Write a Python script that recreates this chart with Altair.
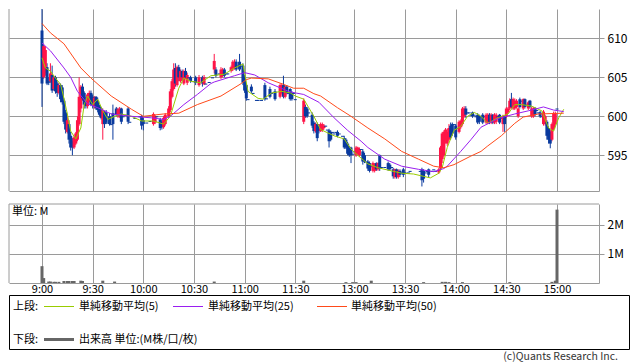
import altair as alt
import numpy as np
import pandas as pd

FONT = "Noto Sans CJK JP"
GRID = "#9a9a9a"
UP = "#ff1447"
DOWN = "#0a3a9e"
VOL_COLOR = "#666666"

# ---------------- 1-minute candles (time, open, high, low, close) ----------------
candle_time = [
    "9:00", "9:01", "9:02", "9:03", "9:04", "9:05", "9:06", "9:07", "9:08", "9:09",
    "9:10", "9:11", "9:12", "9:13", "9:14", "9:15", "9:16", "9:17", "9:18", "9:19",
    "9:20", "9:21", "9:22", "9:23", "9:24", "9:25", "9:26", "9:27", "9:28", "9:29",
    "9:30", "9:31", "9:32", "9:33", "9:34", "9:35", "9:36", "9:37", "9:38", "9:39",
    "9:40", "9:41", "9:42", "9:44", "9:45", "9:46", "9:47", "9:48", "9:50", "9:51",
    "9:52", "9:55", "9:58", "9:59", "10:00", "10:02", "10:04", "10:06", "10:07", "10:08",
    "10:10", "10:11", "10:12", "10:13", "10:15", "10:16", "10:17", "10:18", "10:19", "10:20",
    "10:21", "10:22", "10:23", "10:24", "10:25", "10:26", "10:27", "10:28", "10:30", "10:31",
    "10:33", "10:35", "10:36", "10:37", "10:39", "10:41", "10:42", "10:43", "10:45", "10:46",
    "10:47", "10:48", "10:49", "10:50", "10:52", "10:53", "10:54", "10:55", "10:56", "10:57",
    "10:58", "10:59", "11:00", "11:01", "11:02", "11:04", "11:05", "11:07", "11:08", "11:10",
    "11:12", "11:13", "11:15", "11:16", "11:18", "11:21", "11:22", "11:23", "11:24", "11:25",
    "11:26", "11:27", "11:28", "11:29", "11:30",
    "12:30", "12:31", "12:32", "12:33", "12:35", "12:36", "12:37", "12:38", "12:39", "12:40",
    "12:41", "12:42", "12:43", "12:44", "12:45", "12:46", "12:47", "12:48", "12:49", "12:50",
    "12:51", "12:53", "12:54", "12:55", "12:56", "12:57", "12:58", "12:59", "13:00", "13:01",
    "13:02", "13:03", "13:04", "13:05", "13:06", "13:07", "13:08", "13:09", "13:10", "13:11",
    "13:12", "13:13", "13:14", "13:15", "13:16", "13:18", "13:20", "13:21", "13:22", "13:23",
    "13:24", "13:25", "13:26", "13:27", "13:28", "13:29", "13:30", "13:32", "13:33", "13:39",
    "13:40", "13:41", "13:42", "13:43", "13:44", "13:46", "13:47", "13:48", "13:50", "13:51",
    "13:52", "13:53", "13:54", "13:55", "13:56", "13:57", "13:58", "13:59", "14:00", "14:01",
    "14:02", "14:03", "14:04", "14:05", "14:06", "14:07", "14:08", "14:09", "14:10", "14:11",
    "14:12", "14:13", "14:14", "14:15", "14:16", "14:17", "14:18", "14:19", "14:20", "14:21",
    "14:22", "14:23", "14:24", "14:25", "14:26", "14:27", "14:28", "14:29", "14:30", "14:31",
    "14:32", "14:33", "14:34", "14:35", "14:36", "14:37", "14:38", "14:39", "14:40", "14:41",
    "14:42", "14:43", "14:44", "14:45", "14:46", "14:47", "14:48", "14:49", "14:50", "14:51",
    "14:52", "14:53", "14:54", "14:55", "14:56", "14:57", "14:58", "14:59", "15:00",
]
candle_open = [
    611.0, 605.0, 605.5, 606.3, 604.5, 604.5, 605.3, 603.5, 605.0, 604.2,
    603.0, 604.0, 603.7, 602.0, 600.5, 598.0, 599.0, 597.5, 596.8, 596.0,
    596.5, 597.0, 599.0, 601.0, 603.8, 603.0, 602.0, 601.3, 602.0, 603.0,
    602.5, 601.3, 602.5, 602.0, 601.3, 601.0, 599.0, 600.5, 600.5, 599.2,
    600.0, 599.0, 600.4, 601.0, 600.0, 600.0, 601.0, 600.0, 600.2, 601.0,
    599.3, 599.8, 600.0, 600.0, 599.5, 599.2, 599.4, 599.0, 599.2, 600.0,
    599.6, 599.3, 598.6, 599.0, 600.0, 600.8, 602.5, 603.5, 606.2, 604.0,
    606.3, 604.5, 605.8, 604.2, 605.8, 604.3, 605.0, 605.0, 604.5, 605.0,
    604.0, 605.0, 604.1, 604.2, 604.4, 605.0, 606.0, 606.0, 605.5, 605.0,
    605.2, 606.0, 605.5, 605.5, 605.8, 606.0, 606.2, 607.0, 606.5, 607.0,
    606.5, 606.5, 605.0, 604.0, 602.2, 603.8, 603.0, 602.1, 602.1, 602.1,
    604.0, 602.3, 603.5, 603.0, 603.2, 602.5, 603.0, 604.0, 602.5, 603.8,
    603.0, 603.5, 603.0, 603.0, 602.2,
    599.3, 601.2, 601.0, 600.5, 600.2, 599.2, 598.1, 599.0, 598.8, 598.1,
    598.2, 598.5, 598.8, 598.3, 598.2, 598.0, 598.0, 597.8, 598.0, 598.0,
    597.8, 597.5, 597.2, 597.0, 596.5, 596.0, 596.0, 595.2, 595.5, 595.0,
    595.2, 595.0, 595.8, 595.5, 595.0, 594.2, 594.2, 594.0, 593.6, 593.0,
    593.0, 594.0, 593.2, 595.0, 593.5, 593.5, 594.0, 593.8, 593.5, 593.2,
    592.2, 593.2, 592.2, 593.0, 592.8, 593.2, 592.8, 592.8, 593.0, 593.0,
    593.2, 593.0, 592.8, 593.0, 593.2, 593.0, 593.2, 593.0, 592.8, 593.3,
    594.5, 595.0, 597.0, 596.5, 597.0, 598.8, 599.0, 599.0, 598.8, 598.5,
    598.0, 598.6, 599.0, 600.0, 601.0, 600.5, 600.5, 600.2, 600.5, 600.2,
    600.0, 600.2, 600.0, 600.0, 600.2, 600.0, 599.2, 599.2, 600.2, 599.2,
    600.2, 599.2, 599.3, 600.0, 600.2, 599.8, 599.0, 600.0, 600.0, 600.5,
    601.0, 602.2, 601.0, 601.0, 601.2, 600.0, 602.2, 602.0, 601.0, 602.2,
    601.5, 601.0, 602.0, 600.0, 600.0, 601.0, 600.8, 600.5, 600.5, 600.0,
    599.0, 599.0, 599.3, 598.5, 598.0, 597.0, 598.4, 599.0, 601.0,
]
candle_high = [
    614.2, 609.3, 609.0, 606.8, 605.0, 606.8, 606.5, 605.2, 605.2, 604.5,
    604.3, 604.2, 604.0, 602.3, 600.8, 600.0, 599.5, 598.0, 597.2, 597.5,
    598.0, 600.0, 605.0, 604.0, 604.2, 603.2, 602.5, 603.0, 603.3, 603.3,
    602.8, 602.6, 602.6, 602.4, 601.5, 601.2, 601.0, 600.7, 600.8, 599.2,
    600.4, 599.0, 601.5, 601.2, 601.1, 601.2, 601.1, 600.0, 600.2, 601.2,
    599.3, 599.8, 600.0, 600.2, 599.8, 599.2, 599.4, 600.5, 600.2, 600.0,
    599.8, 599.5, 600.0, 600.4, 601.3, 603.5, 604.8, 606.8, 606.8, 606.5,
    606.6, 606.0, 606.0, 606.0, 606.2, 605.6, 605.0, 605.2, 604.5, 605.2,
    605.3, 605.2, 605.3, 604.2, 604.4, 605.0, 608.0, 606.3, 605.5, 606.3,
    606.2, 606.2, 605.5, 605.5, 606.5, 607.2, 607.3, 607.3, 606.5, 608.0,
    606.5, 606.8, 605.3, 604.2, 602.2, 604.1, 603.0, 602.1, 602.1, 602.1,
    604.3, 602.3, 603.8, 603.0, 603.5, 604.2, 604.2, 605.2, 604.0, 604.0,
    603.0, 603.6, 603.2, 603.0, 602.2,
    602.3, 601.5, 601.2, 600.5, 600.5, 599.4, 599.2, 599.2, 599.0, 599.2,
    599.2, 599.0, 598.8, 598.3, 598.4, 598.2, 598.0, 597.8, 598.0, 598.2,
    597.8, 597.5, 597.5, 597.2, 596.7, 596.2, 596.1, 595.2, 595.5, 596.2,
    596.1, 596.0, 595.8, 595.8, 595.3, 594.2, 594.4, 594.2, 593.6, 594.2,
    594.0, 594.1, 594.1, 595.1, 593.5, 593.5, 594.2, 594.0, 593.5, 593.4,
    593.3, 593.3, 593.2, 593.2, 592.8, 593.4, 592.8, 592.8, 593.0, 593.0,
    593.4, 593.2, 592.8, 593.0, 593.3, 593.0, 593.2, 593.0, 593.4, 596.2,
    598.0, 598.2, 598.5, 598.4, 599.0, 599.2, 599.2, 599.0, 599.0, 598.5,
    599.5, 599.6, 601.2, 601.3, 601.3, 600.5, 600.5, 600.2, 600.6, 600.2,
    600.0, 600.4, 600.2, 600.0, 600.4, 600.0, 600.4, 600.4, 600.4, 600.4,
    600.3, 600.4, 600.4, 600.0, 600.3, 599.8, 600.2, 600.1, 601.2, 601.2,
    602.3, 603.0, 602.4, 602.3, 602.2, 601.2, 602.4, 602.0, 602.3, 602.3,
    601.5, 602.0, 602.1, 601.2, 601.2, 601.2, 600.8, 600.5, 600.7, 600.0,
    600.8, 600.2, 599.5, 598.7, 598.2, 599.2, 600.6, 600.6, 601.0,
]
candle_low = [
    601.2, 604.8, 605.2, 604.0, 604.0, 604.3, 603.0, 603.3, 602.9, 602.5,
    602.8, 601.8, 601.5, 599.0, 597.8, 597.8, 596.5, 595.6, 595.0, 595.8,
    596.3, 596.8, 598.8, 600.5, 602.0, 601.0, 601.0, 601.0, 601.8, 601.3,
    601.0, 601.0, 600.8, 600.5, 600.0, 599.6, 597.0, 598.5, 599.0, 599.2,
    598.8, 599.0, 597.0, 600.0, 599.8, 599.8, 599.0, 600.0, 600.2, 599.0,
    599.3, 599.8, 600.0, 598.3, 598.2, 599.2, 599.4, 598.8, 599.0, 600.0,
    598.2, 598.3, 598.4, 598.8, 599.8, 600.5, 602.3, 603.3, 603.8, 603.8,
    604.5, 604.3, 604.6, 604.0, 604.8, 604.0, 605.0, 604.3, 604.5, 604.0,
    603.8, 603.8, 604.0, 604.2, 604.4, 605.0, 605.5, 605.0, 605.5, 604.8,
    605.0, 605.0, 605.5, 605.5, 605.6, 605.8, 606.0, 605.8, 606.5, 605.8,
    606.5, 604.0, 603.0, 602.0, 602.2, 603.0, 603.0, 602.1, 602.1, 602.1,
    602.0, 602.3, 602.3, 603.0, 602.0, 602.3, 602.8, 602.3, 602.3, 602.8,
    603.0, 602.0, 602.0, 603.0, 602.2,
    599.0, 599.8, 599.8, 600.5, 598.5, 597.8, 597.9, 596.8, 597.8, 598.0,
    598.0, 598.3, 598.8, 598.3, 596.0, 596.8, 598.0, 597.8, 598.0, 597.3,
    597.8, 597.5, 595.8, 595.8, 595.0, 594.8, 594.0, 595.2, 595.5, 594.8,
    595.0, 594.8, 595.8, 593.8, 594.0, 594.2, 593.0, 592.8, 593.6, 592.8,
    592.8, 593.0, 593.0, 593.0, 593.5, 593.5, 593.0, 593.0, 593.5, 592.0,
    592.0, 592.0, 592.0, 592.2, 592.8, 592.2, 592.8, 592.8, 593.0, 593.0,
    591.0, 591.5, 592.8, 593.0, 592.2, 593.0, 593.2, 593.0, 592.6, 593.0,
    594.0, 594.8, 596.5, 596.2, 596.8, 597.0, 597.5, 599.0, 597.0, 598.5,
    597.8, 598.4, 598.8, 599.8, 599.8, 600.5, 600.5, 600.2, 599.8, 600.2,
    600.0, 599.0, 599.0, 600.0, 599.0, 600.0, 599.0, 599.0, 599.0, 599.0,
    599.0, 599.0, 599.0, 600.0, 599.0, 599.8, 598.0, 598.0, 599.8, 600.3,
    600.8, 601.0, 600.8, 600.8, 601.0, 599.8, 601.0, 602.0, 600.8, 601.0,
    601.5, 600.8, 601.0, 599.8, 599.8, 600.0, 600.8, 600.5, 599.8, 600.0,
    598.8, 598.8, 597.0, 596.5, 595.9, 596.8, 598.2, 598.8, 601.0,
]
candle_close = [
    604.2, 609.0, 608.5, 604.2, 604.3, 605.5, 603.3, 605.0, 603.2, 603.0,
    604.0, 602.2, 601.8, 599.3, 598.3, 599.5, 597.0, 596.0, 596.0, 597.3,
    597.8, 599.5, 602.5, 603.8, 602.3, 601.5, 601.3, 602.8, 603.0, 601.5,
    601.5, 602.4, 601.0, 600.8, 600.2, 599.8, 600.8, 599.0, 599.2, 599.2,
    599.0, 599.0, 599.0, 600.2, 600.9, 601.0, 599.3, 600.0, 600.2, 599.3,
    599.3, 599.8, 600.0, 598.8, 599.0, 599.2, 599.4, 600.3, 600.0, 600.0,
    598.5, 598.6, 599.8, 600.2, 601.0, 603.2, 604.5, 606.0, 604.2, 606.3,
    605.0, 605.8, 605.0, 605.8, 605.0, 605.3, 605.0, 604.5, 604.5, 604.3,
    605.0, 604.2, 605.0, 604.2, 604.4, 605.0, 607.1, 605.2, 605.5, 606.0,
    606.0, 605.2, 605.5, 605.5, 606.3, 607.0, 607.0, 606.0, 606.5, 606.0,
    606.5, 604.3, 603.3, 602.3, 602.2, 603.2, 603.0, 602.1, 602.1, 602.1,
    602.2, 602.3, 602.5, 603.0, 602.2, 604.0, 604.0, 602.5, 603.8, 603.0,
    603.0, 602.2, 602.2, 603.0, 602.2,
    602.0, 600.0, 600.0, 600.5, 598.8, 598.1, 599.0, 597.2, 598.1, 599.0,
    599.0, 598.8, 598.8, 598.3, 596.8, 597.0, 598.0, 597.8, 598.0, 597.5,
    597.8, 597.5, 596.0, 596.0, 595.2, 595.0, 595.0, 595.2, 595.5, 596.0,
    596.0, 595.8, 595.8, 594.2, 594.2, 594.2, 593.3, 593.0, 593.6, 594.0,
    593.8, 593.2, 594.0, 593.3, 593.5, 593.5, 593.2, 593.2, 593.5, 592.3,
    593.2, 592.2, 593.0, 592.5, 592.8, 592.5, 592.8, 592.8, 593.0, 593.0,
    591.8, 592.0, 592.8, 593.0, 592.5, 593.0, 593.2, 593.0, 593.2, 596.0,
    597.8, 598.0, 598.3, 598.0, 598.5, 597.3, 597.8, 599.0, 597.3, 598.5,
    599.3, 599.4, 601.0, 601.0, 600.2, 600.5, 600.5, 600.2, 600.0, 600.2,
    600.0, 599.2, 599.3, 600.0, 599.2, 600.0, 600.2, 600.2, 599.3, 600.2,
    599.2, 600.2, 600.2, 600.0, 599.2, 599.8, 600.0, 599.0, 601.0, 601.0,
    602.0, 601.2, 602.2, 602.0, 602.0, 601.0, 601.2, 602.0, 602.2, 601.2,
    601.5, 601.8, 601.2, 601.0, 601.0, 600.2, 600.8, 600.5, 600.0, 600.0,
    600.6, 600.0, 597.5, 597.0, 596.5, 599.0, 600.4, 600.4, 601.0,
]

# ---------------- moving averages ----------------
ma5_time = ["9:00", "9:02", "9:05", "9:08", "9:11", "9:13", "9:15", "9:17", "9:20", "9:23",
            "9:25", "9:27", "9:30", "9:33", "9:36", "9:39", "9:43", "9:47", "9:53", "9:59",
            "10:06", "10:12", "10:16", "10:21", "10:24", "10:28", "10:34", "10:40", "10:48", "10:54",
            "10:59", "11:02", "11:08", "11:11", "11:16", "11:22", "11:27", "11:30", "12:30", "12:33",
            "12:36", "12:40", "12:48", "12:54", "12:58", "13:02", "13:08", "13:14", "13:22", "13:28",
            "13:35", "13:41", "13:45", "13:50", "13:52", "13:55", "13:59", "14:03", "14:07", "14:11",
            "14:15", "14:19", "14:25", "14:31", "14:35", "14:39", "14:45", "14:51", "14:55", "14:58",
            "15:01", "15:04"]
ma5_value = [607.5, 606.2, 605.8, 604.9, 604.1, 602.3, 600.3, 598.1, 597.1, 598.5,
             601.5, 602.6, 601.5, 602.2, 600.7, 599.6, 600.0, 600.3, 600.0, 599.4,
             599.4, 599.0, 600.0, 603.6, 604.9, 604.5, 604.3, 605.2, 605.4, 606.2,
             606.7, 603.2, 602.3, 602.2, 603.0, 603.2, 603.0, 602.6, 602.2, 601.1,
             600.0, 598.3, 597.5, 597.1, 595.8, 595.0, 593.9, 593.4, 593.0, 592.7,
             592.6, 592.3, 592.1, 592.7, 593.4, 596.0, 598.2, 598.7, 600.0, 600.5,
             600.0, 599.1, 599.8, 600.3, 601.5, 601.5, 601.3, 600.7, 598.5, 598.1,
             599.8, 600.9]
ma25_time = ["9:00", "9:05", "9:13", "9:17", "9:21", "9:27", "9:33", "9:41", "9:53", "10:05",
             "10:12", "10:16", "10:24", "10:32", "10:40", "10:42", "10:54", "11:00", "11:06", "11:14",
             "11:26", "11:30", "12:30", "12:39", "12:48", "12:56", "13:04", "13:08", "13:18", "13:28",
             "13:38", "13:47", "13:53", "13:55", "14:03", "14:09", "14:15", "14:25", "14:35", "14:43",
             "14:52", "14:58", "15:04"]
ma25_value = [609.4, 608.4, 606.2, 605.0, 603.2, 601.6, 601.1, 600.3, 600.0, 599.8,
              599.6, 600.0, 601.5, 602.8, 604.2, 604.4, 605.2, 605.6, 605.3, 604.3,
              603.2, 603.0, 602.8, 601.8, 599.8, 598.2, 596.8, 596.0, 594.5, 593.6,
              593.2, 592.9, 593.3, 593.6, 595.5, 597.0, 598.6, 599.7, 600.3, 600.7,
              601.2, 600.8, 600.6]
ma50_time = ["9:00", "9:05", "9:13", "9:23", "9:29", "9:41", "9:53", "10:00", "10:12", "10:21",
             "10:32", "10:46", "10:58", "11:01", "11:04", "11:14", "11:23", "11:29", "12:30", "12:36",
             "12:40", "12:50", "12:58", "13:04", "13:08", "13:18", "13:28", "13:38", "13:47", "13:53",
             "13:59", "14:09", "14:15", "14:19", "14:27", "14:35", "14:40", "14:49", "15:04"]
ma50_value = [611.9, 610.7, 609.3, 606.2, 604.9, 602.6, 600.9, 600.0, 600.3, 600.4,
              601.5, 602.6, 604.2, 604.7, 604.9, 604.8, 604.1, 603.6, 603.6, 602.9,
              602.6, 601.1, 600.0, 599.1, 598.5, 597.1, 595.5, 594.5, 593.6, 593.4,
              593.8, 594.9, 595.5, 596.2, 597.5, 599.1, 599.9, 600.3, 600.4]

# ---------------- volume (million) ----------------
vol_time = ["9:00", "9:01", "9:04", "9:05", "9:07", "9:08", "9:10", "9:13", "9:15", "9:16",
            "9:18", "9:19", "9:23", "9:24", "9:36", "9:43", "10:42", "12:30", "12:55", "12:59",
            "13:01", "13:10", "13:41", "13:52", "13:54", "13:56", "14:04", "14:32", "14:57", "14:59",
            "15:00"]
vol_million = [0.58, 0.17, 0.05, 0.05, 0.04, 0.04, 0.04, 0.07, 0.07, 0.07,
               0.07, 0.07, 0.08, 0.07, 0.08, 0.05, 0.05, 0.08, 0.03, 0.03,
               0.03, 0.08, 0.03, 0.04, 0.04, 0.03, 0.03, 0.03, 0.04, 0.08,
               2.53]

tick_labels = ["9:00", "9:30", "10:00", "10:30", "11:00", "11:30",
               "13:00", "13:30", "14:00", "14:30", "15:00"]
price_ticks = [595, 600, 605, 610]
volume_ticks = [1, 2]
legend_names = ["単純移動平均(5)", "単純移動平均(25)", "単純移動平均(50)"]
legend_colors = ["#99cc00", "#9a1ef0", "#ff4a1a"]
upper_title = "上段:"
lower_title = "下段:"
volume_legend = "出来高 単位:(M株/口/枚)"
unit_text = "単位: M"
copyright_text = "(c)Quants Research Inc."


def slot(t):
    """minutes from 9:00, with the lunch break shortened to 5 slots"""
    h, m = (int(v) for v in t.split(":"))
    mins = h * 60 + m
    return mins - 540 if mins <= 690 else mins - 595


candles = pd.DataFrame({"time": candle_time, "open": candle_open, "high": candle_high,
                        "low": candle_low, "close": candle_close})
candles["slot"] = candles["time"].map(slot)
candles["dir"] = np.where(candles["close"] > candles["open"], "up", "down")
candles["body_hi"] = candles[["open", "close"]].max(axis=1)
candles["body_lo"] = np.minimum(candles[["open", "close"]].min(axis=1), candles["body_hi"] - 0.13)

ma_df = pd.concat([
    pd.DataFrame({"time": ma5_time, "value": ma5_value, "name": legend_names[0]}),
    pd.DataFrame({"time": ma25_time, "value": ma25_value, "name": legend_names[1]}),
    pd.DataFrame({"time": ma50_time, "value": ma50_value, "name": legend_names[2]}),
], ignore_index=True)
ma_df["slot"] = ma_df["time"].map(slot)

vol_df = pd.DataFrame({"time": vol_time, "vol": vol_million})
vol_df["slot"] = vol_df["time"].map(slot)

tick_slots = [slot(t) for t in tick_labels]
label_expr = " : ".join(f"datum.value == {s} ? '{t}'" for s, t in zip(tick_slots, tick_labels)) + " : ''"

W = 590
H_PRICE = 182
H_VOL = 79
xs = alt.Scale(domain=[-19.54, 329.87], nice=False, zero=False, padding=0)
ys = alt.Scale(domain=[590.42, 613.76], nice=False, zero=False, padding=0)
vs = alt.Scale(domain=[0, 2.724], nice=False, zero=True, padding=0)

x_price_axis = alt.Axis(values=tick_slots, grid=True, gridColor=GRID, labels=False, ticks=False,
                        domain=True, domainColor=GRID, title=None)
y_price_axis = alt.Axis(orient="right", values=price_ticks, grid=True, gridColor=GRID,
                        ticks=True, tickColor=GRID, tickSize=5, domain=True, domainColor=GRID,
                        labelFont=FONT, labelFontSize=12, labelColor="#000", labelPadding=3,
                        title=None)
dir_color = alt.Color("dir:N", scale=alt.Scale(domain=["up", "down"], range=[UP, DOWN]), legend=None)

one = pd.DataFrame({"k": [0]})

left_border_p = alt.Chart(one).mark_rule(color=GRID).encode(
    x=alt.value(0), y=alt.value(0), y2=alt.value(H_PRICE))
wicks = alt.Chart(candles).mark_rule(strokeWidth=1, clip=True).encode(
    x=alt.X("slot:Q", scale=xs, axis=x_price_axis),
    y=alt.Y("low:Q", scale=ys, axis=y_price_axis),
    y2="high:Q",
    color=dir_color,
)
bodies = alt.Chart(candles).mark_bar(size=3, clip=True).encode(
    x=alt.X("slot:Q", scale=xs, axis=x_price_axis),
    y=alt.Y("body_lo:Q", scale=ys, axis=y_price_axis),
    y2="body_hi:Q",
    color=dir_color,
)
ma_lines = alt.Chart(ma_df).mark_line(strokeWidth=1, clip=True).encode(
    x=alt.X("slot:Q", scale=xs, axis=x_price_axis),
    y=alt.Y("value:Q", scale=ys, axis=y_price_axis),
    color=alt.Color("name:N", scale=alt.Scale(domain=legend_names, range=legend_colors), legend=None),
)
price = alt.layer(left_border_p, wicks, bodies, ma_lines).resolve_scale(
    color="independent").properties(width=W, height=H_PRICE)

x_vol_axis = alt.Axis(values=tick_slots, labelExpr=label_expr, grid=True, gridColor=GRID,
                      ticks=False, domain=True, domainColor=GRID, labelFont=FONT, labelFontSize=11,
                      labelColor="#000", labelPadding=0, labelFlush=False, labelOverlap=False,
                      title=None)
y_vol_axis = alt.Axis(orient="right", values=volume_ticks, labelExpr="datum.value + 'M'",
                      grid=True, gridColor=GRID, ticks=True, tickColor=GRID, tickSize=5,
                      domain=True, domainColor=GRID, labelFont=FONT, labelFontSize=12,
                      labelColor="#000", labelPadding=3, title=None)

vol_bars = alt.Chart(vol_df).mark_bar(size=3, color=VOL_COLOR).encode(
    x=alt.X("slot:Q", scale=xs, axis=x_vol_axis),
    y=alt.Y("vol:Q", scale=vs, axis=y_vol_axis),
)
top_border_v = alt.Chart(one).mark_rule(color=GRID).encode(
    x=alt.value(0), x2=alt.value(W), y=alt.value(0))
left_border_v = alt.Chart(one).mark_rule(color=GRID).encode(
    x=alt.value(0), y=alt.value(0), y2=alt.value(H_VOL))


def text_at(s, cx, cy, align="left", size=11, color="#000"):
    return alt.Chart(pd.DataFrame({"t": [s]})).mark_text(
        align=align, baseline="middle", font=FONT, fontSize=size, color=color
    ).encode(text="t:N", x=alt.value(cx), y=alt.value(cy))


def line_at(color, cx0, cx1, cy, w=1):
    return alt.Chart(one).mark_rule(color=color, strokeWidth=w).encode(
        x=alt.value(cx0), x2=alt.value(cx1), y=alt.value(cy))


legend_box = alt.Chart(one).mark_rect(fillOpacity=0, stroke="#000", strokeWidth=1).encode(
    x=alt.value(0.5), x2=alt.value(620.5), y=alt.value(91.5), y2=alt.value(145.5))

ROW1 = 102.5
ROW2 = 135.5
legend_layers = [
    legend_box,
    text_at(upper_title, 4, ROW1),
    line_at(legend_colors[0], 35, 65, ROW1), text_at(legend_names[0], 70, ROW1),
    line_at(legend_colors[1], 164, 194, ROW1), text_at(legend_names[1], 199, ROW1),
    line_at(legend_colors[2], 308, 338, ROW1), text_at(legend_names[2], 342, ROW1),
    text_at(lower_title, 4, ROW2),
    line_at(VOL_COLOR, 35, 65, ROW2, 3), text_at(volume_legend, 70, ROW2),
    text_at(copyright_text, 609, 152.5, align="right", size=10.5, color="#333"),
]

volume = alt.layer(
    vol_bars, top_border_v, left_border_v, text_at(unit_text, 3, 8), *legend_layers
).properties(width=W, height=H_VOL)

chart = alt.vconcat(price, volume, spacing=11).properties(padding=0).configure_view(stroke=None)

chart.save("out.html", embed_options={"renderer": "svg", "actions": False})
